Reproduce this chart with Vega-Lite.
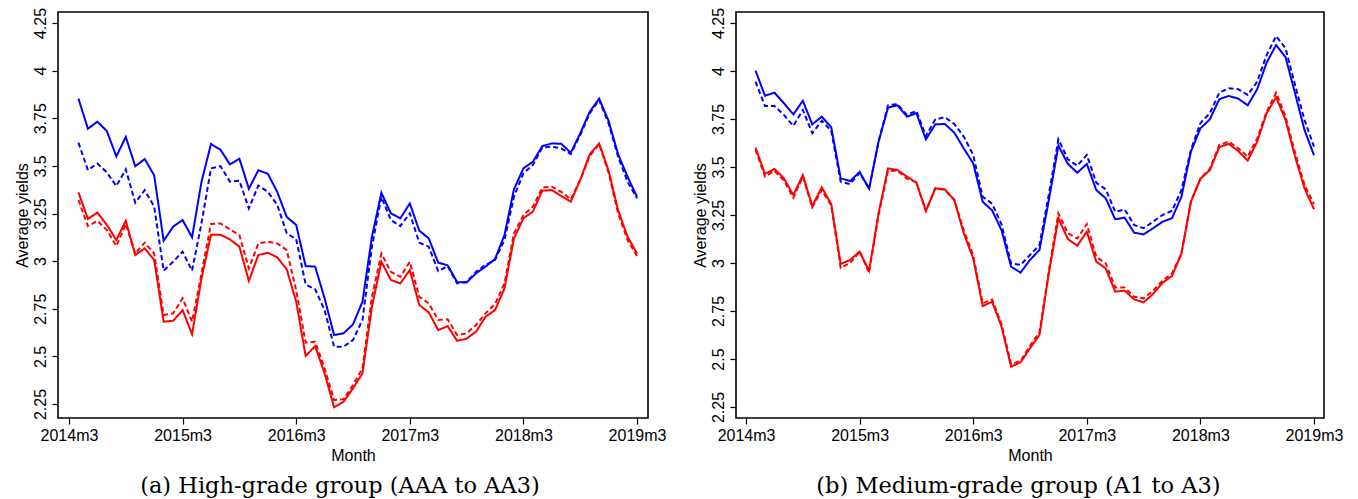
{
  "$schema": "https://vega.github.io/schema/vega-lite/v6.json",
  "autosize": {"type": "pad"},
  "padding": {"left": 13, "top": 6, "right": 0, "bottom": 0},
  "background": "white",
  "bounds": "flush",
  "spacing": 88,
  "config": {
    "view": {"stroke": "#000000", "strokeWidth": 1.6},
    "axis": {
      "grid": false,
      "domain": false,
      "tickColor": "#000000",
      "tickWidth": 1.2,
      "tickSize": 6,
      "labelFont": "Liberation Sans",
      "labelFontSize": 16,
      "labelColor": "#000000",
      "titleFont": "Liberation Sans",
      "titleFontSize": 16,
      "titleFontWeight": "normal",
      "titleColor": "#000000"
    },
    "title": {"font": "DejaVu Serif", "fontSize": 22.5, "fontWeight": "normal", "color": "#000000"}
  },
  "datasets": {
    "high": [
      {"t":1,"month":"2014m4","blue_solid":3.853,"blue_dashed":3.622,"red_solid":3.361,"red_dashed":3.321},
      {"t":2,"month":"2014m5","blue_solid":3.695,"blue_dashed":3.478,"red_solid":3.222,"red_dashed":3.184},
      {"t":3,"month":"2014m6","blue_solid":3.732,"blue_dashed":3.513,"red_solid":3.255,"red_dashed":3.212},
      {"t":4,"month":"2014m7","blue_solid":3.683,"blue_dashed":3.466,"red_solid":3.190,"red_dashed":3.163},
      {"t":5,"month":"2014m8","blue_solid":3.550,"blue_dashed":3.394,"red_solid":3.111,"red_dashed":3.079},
      {"t":6,"month":"2014m9","blue_solid":3.652,"blue_dashed":3.482,"red_solid":3.212,"red_dashed":3.195},
      {"t":7,"month":"2014m10","blue_solid":3.498,"blue_dashed":3.307,"red_solid":3.032,"red_dashed":3.040},
      {"t":8,"month":"2014m11","blue_solid":3.536,"blue_dashed":3.373,"red_solid":3.067,"red_dashed":3.097},
      {"t":9,"month":"2014m12","blue_solid":3.450,"blue_dashed":3.286,"red_solid":3.006,"red_dashed":3.040},
      {"t":10,"month":"2015m1","blue_solid":3.107,"blue_dashed":2.950,"red_solid":2.682,"red_dashed":2.717},
      {"t":11,"month":"2015m2","blue_solid":3.181,"blue_dashed":2.997,"red_solid":2.687,"red_dashed":2.726},
      {"t":12,"month":"2015m3","blue_solid":3.216,"blue_dashed":3.050,"red_solid":2.743,"red_dashed":2.805},
      {"t":13,"month":"2015m4","blue_solid":3.125,"blue_dashed":2.950,"red_solid":2.616,"red_dashed":2.682},
      {"t":14,"month":"2015m5","blue_solid":3.417,"blue_dashed":3.200,"red_solid":2.910,"red_dashed":2.936},
      {"t":15,"month":"2015m6","blue_solid":3.615,"blue_dashed":3.487,"red_solid":3.139,"red_dashed":3.195},
      {"t":16,"month":"2015m7","blue_solid":3.585,"blue_dashed":3.499,"red_solid":3.139,"red_dashed":3.198},
      {"t":17,"month":"2015m8","blue_solid":3.508,"blue_dashed":3.417,"red_solid":3.114,"red_dashed":3.167},
      {"t":18,"month":"2015m9","blue_solid":3.538,"blue_dashed":3.422,"red_solid":3.076,"red_dashed":3.137},
      {"t":19,"month":"2015m10","blue_solid":3.380,"blue_dashed":3.277,"red_solid":2.896,"red_dashed":2.962},
      {"t":20,"month":"2015m11","blue_solid":3.477,"blue_dashed":3.397,"red_solid":3.032,"red_dashed":3.093},
      {"t":21,"month":"2015m12","blue_solid":3.459,"blue_dashed":3.364,"red_solid":3.044,"red_dashed":3.102},
      {"t":22,"month":"2016m1","blue_solid":3.363,"blue_dashed":3.295,"red_solid":3.020,"red_dashed":3.093},
      {"t":23,"month":"2016m2","blue_solid":3.232,"blue_dashed":3.146,"red_solid":2.957,"red_dashed":3.058},
      {"t":24,"month":"2016m3","blue_solid":3.190,"blue_dashed":3.115,"red_solid":2.787,"red_dashed":2.848},
      {"t":25,"month":"2016m4","blue_solid":2.974,"blue_dashed":2.878,"red_solid":2.502,"red_dashed":2.572},
      {"t":26,"month":"2016m5","blue_solid":2.971,"blue_dashed":2.852,"red_solid":2.554,"red_dashed":2.577},
      {"t":27,"month":"2016m6","blue_solid":2.805,"blue_dashed":2.743,"red_solid":2.411,"red_dashed":2.437},
      {"t":28,"month":"2016m7","blue_solid":2.612,"blue_dashed":2.551,"red_solid":2.233,"red_dashed":2.271},
      {"t":29,"month":"2016m8","blue_solid":2.621,"blue_dashed":2.551,"red_solid":2.262,"red_dashed":2.275},
      {"t":30,"month":"2016m9","blue_solid":2.668,"blue_dashed":2.586,"red_solid":2.332,"red_dashed":2.350},
      {"t":31,"month":"2016m10","blue_solid":2.787,"blue_dashed":2.691,"red_solid":2.411,"red_dashed":2.437},
      {"t":32,"month":"2016m11","blue_solid":3.128,"blue_dashed":3.076,"red_solid":2.761,"red_dashed":2.813},
      {"t":33,"month":"2016m12","blue_solid":3.359,"blue_dashed":3.338,"red_solid":2.997,"red_dashed":3.040},
      {"t":34,"month":"2017m1","blue_solid":3.251,"blue_dashed":3.216,"red_solid":2.901,"red_dashed":2.944},
      {"t":35,"month":"2017m2","blue_solid":3.225,"blue_dashed":3.184,"red_solid":2.883,"red_dashed":2.918},
      {"t":36,"month":"2017m3","blue_solid":3.303,"blue_dashed":3.251,"red_solid":2.953,"red_dashed":2.997},
      {"t":37,"month":"2017m4","blue_solid":3.160,"blue_dashed":3.097,"red_solid":2.770,"red_dashed":2.813},
      {"t":38,"month":"2017m5","blue_solid":3.120,"blue_dashed":3.076,"red_solid":2.731,"red_dashed":2.779},
      {"t":39,"month":"2017m6","blue_solid":2.992,"blue_dashed":2.948,"red_solid":2.638,"red_dashed":2.691},
      {"t":40,"month":"2017m7","blue_solid":2.978,"blue_dashed":2.974,"red_solid":2.659,"red_dashed":2.695},
      {"t":41,"month":"2017m8","blue_solid":2.890,"blue_dashed":2.883,"red_solid":2.582,"red_dashed":2.612},
      {"t":42,"month":"2017m9","blue_solid":2.888,"blue_dashed":2.892,"red_solid":2.593,"red_dashed":2.621},
      {"t":43,"month":"2017m10","blue_solid":2.936,"blue_dashed":2.944,"red_solid":2.630,"red_dashed":2.665},
      {"t":44,"month":"2017m11","blue_solid":2.971,"blue_dashed":2.980,"red_solid":2.708,"red_dashed":2.726},
      {"t":45,"month":"2017m12","blue_solid":3.011,"blue_dashed":3.006,"red_solid":2.743,"red_dashed":2.775},
      {"t":46,"month":"2018m1","blue_solid":3.137,"blue_dashed":3.111,"red_solid":2.857,"red_dashed":2.883},
      {"t":47,"month":"2018m2","blue_solid":3.377,"blue_dashed":3.338,"red_solid":3.120,"red_dashed":3.146},
      {"t":48,"month":"2018m3","blue_solid":3.487,"blue_dashed":3.461,"red_solid":3.225,"red_dashed":3.242},
      {"t":49,"month":"2018m4","blue_solid":3.522,"blue_dashed":3.505,"red_solid":3.260,"red_dashed":3.286},
      {"t":50,"month":"2018m5","blue_solid":3.604,"blue_dashed":3.597,"red_solid":3.370,"red_dashed":3.386},
      {"t":51,"month":"2018m6","blue_solid":3.618,"blue_dashed":3.601,"red_solid":3.373,"red_dashed":3.391},
      {"t":52,"month":"2018m7","blue_solid":3.616,"blue_dashed":3.592,"red_solid":3.342,"red_dashed":3.364},
      {"t":53,"month":"2018m8","blue_solid":3.569,"blue_dashed":3.562,"red_solid":3.312,"red_dashed":3.324},
      {"t":54,"month":"2018m9","blue_solid":3.671,"blue_dashed":3.662,"red_solid":3.426,"red_dashed":3.426},
      {"t":55,"month":"2018m10","blue_solid":3.784,"blue_dashed":3.776,"red_solid":3.561,"red_dashed":3.552},
      {"t":56,"month":"2018m11","blue_solid":3.853,"blue_dashed":3.846,"red_solid":3.618,"red_dashed":3.615},
      {"t":57,"month":"2018m12","blue_solid":3.736,"blue_dashed":3.723,"red_solid":3.475,"red_dashed":3.464},
      {"t":58,"month":"2019m1","blue_solid":3.562,"blue_dashed":3.548,"red_solid":3.268,"red_dashed":3.251},
      {"t":59,"month":"2019m2","blue_solid":3.443,"blue_dashed":3.417,"red_solid":3.128,"red_dashed":3.111},
      {"t":60,"month":"2019m3","blue_solid":3.338,"blue_dashed":3.330,"red_solid":3.040,"red_dashed":3.027}
    ],
    "medium": [
      {"t":1,"month":"2014m4","blue_solid":4.002,"blue_dashed":3.944,"red_solid":3.601,"red_dashed":3.590},
      {"t":2,"month":"2014m5","blue_solid":3.871,"blue_dashed":3.818,"red_solid":3.464,"red_dashed":3.450},
      {"t":3,"month":"2014m6","blue_solid":3.887,"blue_dashed":3.818,"red_solid":3.490,"red_dashed":3.480},
      {"t":4,"month":"2014m7","blue_solid":3.832,"blue_dashed":3.771,"red_solid":3.441,"red_dashed":3.430},
      {"t":5,"month":"2014m8","blue_solid":3.774,"blue_dashed":3.714,"red_solid":3.354,"red_dashed":3.340},
      {"t":6,"month":"2014m9","blue_solid":3.845,"blue_dashed":3.797,"red_solid":3.458,"red_dashed":3.450},
      {"t":7,"month":"2014m10","blue_solid":3.722,"blue_dashed":3.676,"red_solid":3.297,"red_dashed":3.290},
      {"t":8,"month":"2014m11","blue_solid":3.762,"blue_dashed":3.741,"red_solid":3.394,"red_dashed":3.380},
      {"t":9,"month":"2014m12","blue_solid":3.707,"blue_dashed":3.688,"red_solid":3.307,"red_dashed":3.300},
      {"t":10,"month":"2015m1","blue_solid":3.441,"blue_dashed":3.424,"red_solid":2.995,"red_dashed":2.975},
      {"t":11,"month":"2015m2","blue_solid":3.427,"blue_dashed":3.411,"red_solid":3.016,"red_dashed":3.000},
      {"t":12,"month":"2015m3","blue_solid":3.474,"blue_dashed":3.470,"red_solid":3.059,"red_dashed":3.060},
      {"t":13,"month":"2015m4","blue_solid":3.387,"blue_dashed":3.387,"red_solid":2.960,"red_dashed":2.950},
      {"t":14,"month":"2015m5","blue_solid":3.632,"blue_dashed":3.632,"red_solid":3.259,"red_dashed":3.250},
      {"t":15,"month":"2015m6","blue_solid":3.809,"blue_dashed":3.821,"red_solid":3.493,"red_dashed":3.480},
      {"t":16,"month":"2015m7","blue_solid":3.821,"blue_dashed":3.828,"red_solid":3.484,"red_dashed":3.480},
      {"t":17,"month":"2015m8","blue_solid":3.762,"blue_dashed":3.771,"red_solid":3.450,"red_dashed":3.440},
      {"t":18,"month":"2015m9","blue_solid":3.780,"blue_dashed":3.792,"red_solid":3.418,"red_dashed":3.420},
      {"t":19,"month":"2015m10","blue_solid":3.644,"blue_dashed":3.661,"red_solid":3.272,"red_dashed":3.270},
      {"t":20,"month":"2015m11","blue_solid":3.722,"blue_dashed":3.748,"red_solid":3.389,"red_dashed":3.390},
      {"t":21,"month":"2015m12","blue_solid":3.724,"blue_dashed":3.759,"red_solid":3.384,"red_dashed":3.380},
      {"t":22,"month":"2016m1","blue_solid":3.679,"blue_dashed":3.724,"red_solid":3.328,"red_dashed":3.330},
      {"t":23,"month":"2016m2","blue_solid":3.597,"blue_dashed":3.658,"red_solid":3.155,"red_dashed":3.170},
      {"t":24,"month":"2016m3","blue_solid":3.519,"blue_dashed":3.563,"red_solid":3.024,"red_dashed":3.040},
      {"t":25,"month":"2016m4","blue_solid":3.319,"blue_dashed":3.345,"red_solid":2.776,"red_dashed":2.790},
      {"t":26,"month":"2016m5","blue_solid":3.274,"blue_dashed":3.309,"red_solid":2.798,"red_dashed":2.810},
      {"t":27,"month":"2016m6","blue_solid":3.170,"blue_dashed":3.200,"red_solid":2.668,"red_dashed":2.680},
      {"t":28,"month":"2016m7","blue_solid":2.981,"blue_dashed":2.998,"red_solid":2.460,"red_dashed":2.475},
      {"t":29,"month":"2016m8","blue_solid":2.950,"blue_dashed":2.990,"red_solid":2.483,"red_dashed":2.490},
      {"t":30,"month":"2016m9","blue_solid":3.016,"blue_dashed":3.042,"red_solid":2.556,"red_dashed":2.570},
      {"t":31,"month":"2016m10","blue_solid":3.068,"blue_dashed":3.094,"red_solid":2.625,"red_dashed":2.640},
      {"t":32,"month":"2016m11","blue_solid":3.330,"blue_dashed":3.360,"red_solid":2.950,"red_dashed":2.960},
      {"t":33,"month":"2016m12","blue_solid":3.611,"blue_dashed":3.644,"red_solid":3.233,"red_dashed":3.259},
      {"t":34,"month":"2017m1","blue_solid":3.516,"blue_dashed":3.540,"red_solid":3.125,"red_dashed":3.155},
      {"t":35,"month":"2017m2","blue_solid":3.470,"blue_dashed":3.507,"red_solid":3.090,"red_dashed":3.128},
      {"t":36,"month":"2017m3","blue_solid":3.516,"blue_dashed":3.563,"red_solid":3.163,"red_dashed":3.203},
      {"t":37,"month":"2017m4","blue_solid":3.380,"blue_dashed":3.418,"red_solid":3.007,"red_dashed":3.033},
      {"t":38,"month":"2017m5","blue_solid":3.337,"blue_dashed":3.384,"red_solid":2.972,"red_dashed":2.998},
      {"t":39,"month":"2017m6","blue_solid":3.228,"blue_dashed":3.267,"red_solid":2.851,"red_dashed":2.873},
      {"t":40,"month":"2017m7","blue_solid":3.236,"blue_dashed":3.279,"red_solid":2.856,"red_dashed":2.873},
      {"t":41,"month":"2017m8","blue_solid":3.158,"blue_dashed":3.198,"red_solid":2.811,"red_dashed":2.824},
      {"t":42,"month":"2017m9","blue_solid":3.149,"blue_dashed":3.181,"red_solid":2.795,"red_dashed":2.816},
      {"t":43,"month":"2017m10","blue_solid":3.181,"blue_dashed":3.215,"red_solid":2.839,"red_dashed":2.856},
      {"t":44,"month":"2017m11","blue_solid":3.215,"blue_dashed":3.250,"red_solid":2.897,"red_dashed":2.908},
      {"t":45,"month":"2017m12","blue_solid":3.233,"blue_dashed":3.272,"red_solid":2.932,"red_dashed":2.946},
      {"t":46,"month":"2018m1","blue_solid":3.345,"blue_dashed":3.380,"red_solid":3.050,"red_dashed":3.050},
      {"t":47,"month":"2018m2","blue_solid":3.580,"blue_dashed":3.589,"red_solid":3.319,"red_dashed":3.320},
      {"t":48,"month":"2018m3","blue_solid":3.701,"blue_dashed":3.728,"red_solid":3.438,"red_dashed":3.440},
      {"t":49,"month":"2018m4","blue_solid":3.748,"blue_dashed":3.780,"red_solid":3.484,"red_dashed":3.490},
      {"t":50,"month":"2018m5","blue_solid":3.853,"blue_dashed":3.887,"red_solid":3.603,"red_dashed":3.615},
      {"t":51,"month":"2018m6","blue_solid":3.870,"blue_dashed":3.910,"red_solid":3.620,"red_dashed":3.632},
      {"t":52,"month":"2018m7","blue_solid":3.856,"blue_dashed":3.905,"red_solid":3.583,"red_dashed":3.597},
      {"t":53,"month":"2018m8","blue_solid":3.821,"blue_dashed":3.875,"red_solid":3.533,"red_dashed":3.554},
      {"t":54,"month":"2018m9","blue_solid":3.905,"blue_dashed":3.944,"red_solid":3.632,"red_dashed":3.649},
      {"t":55,"month":"2018m10","blue_solid":4.043,"blue_dashed":4.083,"red_solid":3.780,"red_dashed":3.788},
      {"t":56,"month":"2018m11","blue_solid":4.135,"blue_dashed":4.182,"red_solid":3.863,"red_dashed":3.887},
      {"t":57,"month":"2018m12","blue_solid":4.071,"blue_dashed":4.118,"red_solid":3.745,"red_dashed":3.762},
      {"t":58,"month":"2019m1","blue_solid":3.884,"blue_dashed":3.927,"red_solid":3.554,"red_dashed":3.575},
      {"t":59,"month":"2019m2","blue_solid":3.693,"blue_dashed":3.745,"red_solid":3.389,"red_dashed":3.406},
      {"t":60,"month":"2019m3","blue_solid":3.561,"blue_dashed":3.606,"red_solid":3.280,"red_dashed":3.307}
    ]
  },
  "hconcat": [
    {
      "width": 590,
      "height": 406,
      "data": {"name": "high"},
      "transform": [{"fold": ["blue_solid", "blue_dashed", "red_solid", "red_dashed"], "as": ["series", "yield"]}],
      "mark": {"type": "line", "strokeWidth": 2, "clip": true},
      "encoding": {
        "x": {"field": "t", "type": "quantitative", "scale": {"domain": [-1.16, 61.16], "nice": false, "zero": false},
          "axis": {"values": [0, 12, 24, 36, 48, 60], "labelExpr": "(2014 + datum.value/12) + 'm3'", "title": "Month", "labelPadding": 3, "titlePadding": 4, "labelFlush": false, "labelOverlap": false}},
        "y": {"field": "yield", "type": "quantitative", "scale": {"domain": [2.1765, 4.308], "nice": false, "zero": false},
          "axis": {"values": [2.25, 2.5, 2.75, 3, 3.25, 3.5, 3.75, 4, 4.25], "labelExpr": "'' + datum.value", "labelAngle": -90, "labelAlign": "center", "labelBaseline": "bottom", "labelPadding": 4, "title": "Average yields", "titlePadding": 2, "labelFlush": false, "labelOverlap": false}},
        "color": {"field": "series", "type": "nominal", "scale": {"domain": ["blue_solid", "blue_dashed", "red_solid", "red_dashed"], "range": ["#0000ff", "#0000ff", "#ff0000", "#ff0000"]}, "legend": null},
        "strokeDash": {"field": "series", "type": "nominal", "scale": {"domain": ["blue_solid", "blue_dashed", "red_solid", "red_dashed"], "range": [[1, 0], [5, 3], [1, 0], [5, 3]]}, "legend": null}
      },
      "title": {"text": "(a) High-grade group (AAA to AA3)", "orient": "bottom", "anchor": "middle", "frame": "bounds", "dx": 0, "offset": 12}
    },
    {
      "width": 588,
      "height": 406,
      "data": {"name": "medium"},
      "transform": [{"fold": ["blue_solid", "blue_dashed", "red_solid", "red_dashed"], "as": ["series", "yield"]}],
      "mark": {"type": "line", "strokeWidth": 2, "clip": true},
      "encoding": {
        "x": {"field": "t", "type": "quantitative", "scale": {"domain": [-1.06, 61.06], "nice": false, "zero": false},
          "axis": {"values": [0, 12, 24, 36, 48, 60], "labelExpr": "(2014 + datum.value/12) + 'm3'", "title": "Month", "labelPadding": 3, "titlePadding": 4, "labelFlush": false, "labelOverlap": false}},
        "y": {"field": "yield", "type": "quantitative", "scale": {"domain": [2.193, 4.307], "nice": false, "zero": false},
          "axis": {"values": [2.25, 2.5, 2.75, 3, 3.25, 3.5, 3.75, 4, 4.25], "labelExpr": "'' + datum.value", "labelAngle": -90, "labelAlign": "center", "labelBaseline": "bottom", "labelPadding": 4, "title": "Average yields", "titlePadding": 2, "labelFlush": false, "labelOverlap": false}},
        "color": {"field": "series", "type": "nominal", "scale": {"domain": ["blue_solid", "blue_dashed", "red_solid", "red_dashed"], "range": ["#0000ff", "#0000ff", "#ff0000", "#ff0000"]}, "legend": null},
        "strokeDash": {"field": "series", "type": "nominal", "scale": {"domain": ["blue_solid", "blue_dashed", "red_solid", "red_dashed"], "range": [[1, 0], [5, 3], [1, 0], [5, 3]]}, "legend": null}
      },
      "title": {"text": "(b) Medium-grade group (A1 to A3)", "orient": "bottom", "anchor": "middle", "frame": "bounds", "dx": 1, "offset": 12}
    }
  ],
  "resolve": {"scale": {"x": "independent", "y": "independent", "color": "independent", "strokeDash": "independent"}}
}
